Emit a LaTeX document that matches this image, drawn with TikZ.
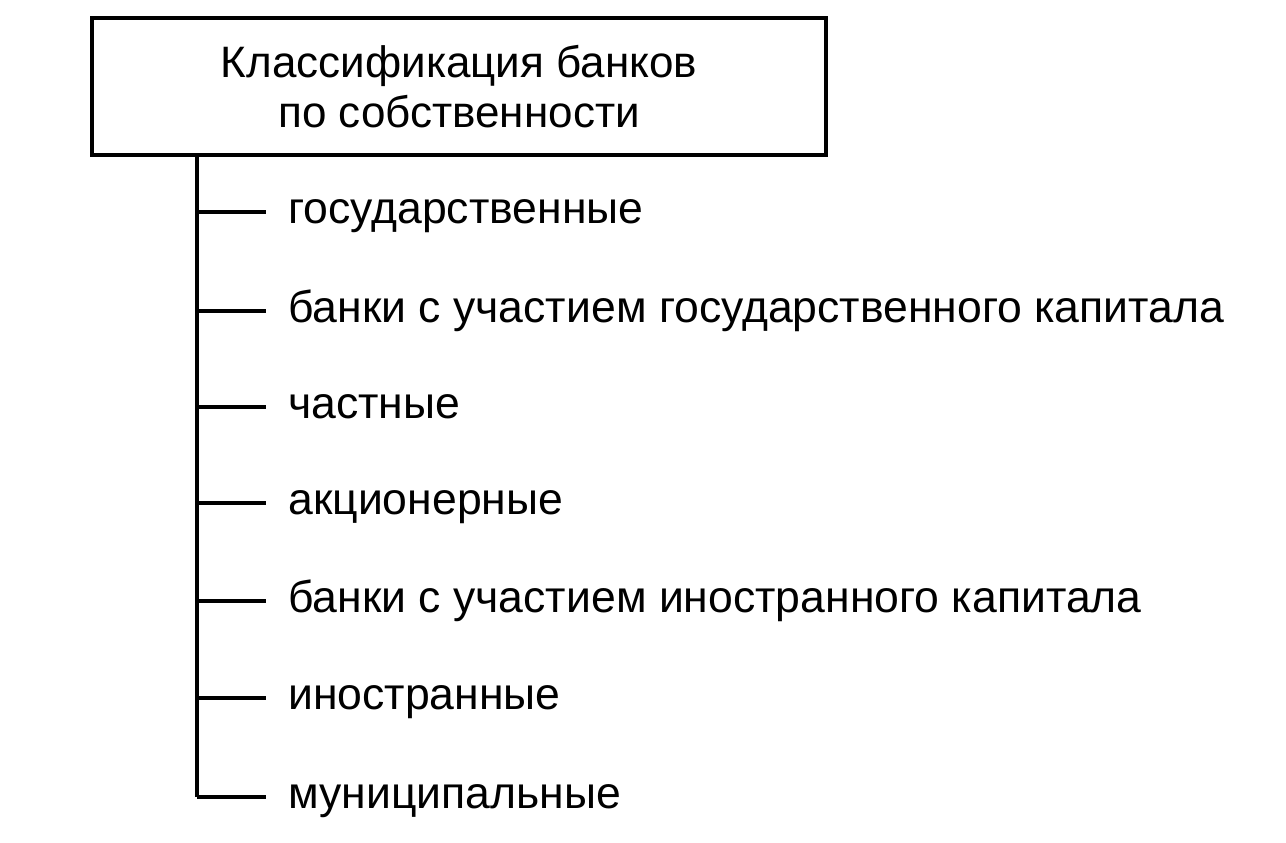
\documentclass[tikz,border=0pt]{standalone}
\usepackage{fontspec}
\setmainfont{Liberation Sans}
\usepackage{tikz}
\usetikzlibrary{calc}

\tikzset{
  titlebox/.style={draw,line width=2.6pt,minimum width=550.5pt,minimum height=102.75pt,
    align=center,inner sep=0pt,font=\fontsize{33}{37}\selectfont},
  item/.style={anchor=west,inner sep=0pt,text height=17.3pt,text depth=0pt,
    font=\fontsize{33.4}{36}\selectfont},
  branch/.style={line width=2.6pt},
  tick/.style={line width=2.6pt,shorten >=16.5pt}
}

\begin{document}
\begin{tikzpicture}[x=0.75pt,y=0.75pt,yscale=-1,xscale=1]
%set diagram size to the reference: 1286 x 843
\useasboundingbox (0,0) rectangle (1286,843);

% Title Node
\node [titlebox] (title) at (459,86.5) {Классификация банков\\по собственности};

% Text Nodes
\node [item] (gov) at (288,212) {государственные};
\node [item] (govcap) at (288,311) {банки с участием государственного капитала};
\node [item] (priv) at (288,407) {частные};
\node [item] (joint) at (288,503) {акционерные};
\node [item] (forcap) at (288,601) {банки с участием иностранного капитала};
\node [item] (foreign) at (288,698) {иностранные};
\node [item] (munic) at (288,797) {муниципальные};

%Straight Lines
\coordinate (trunk) at (197,797);
\draw [branch] (title.south -| trunk) -- (trunk);
\draw [tick] (gov.west -| trunk) -- (gov.west);
\draw [tick] (govcap.west -| trunk) -- (govcap.west);
\draw [tick] (priv.west -| trunk) -- (priv.west);
\draw [tick] (joint.west -| trunk) -- (joint.west);
\draw [tick] (forcap.west -| trunk) -- (forcap.west);
\draw [tick] (foreign.west -| trunk) -- (foreign.west);
\draw [tick] (munic.west -| trunk) -- (munic.west);

\end{tikzpicture}
\end{document}
